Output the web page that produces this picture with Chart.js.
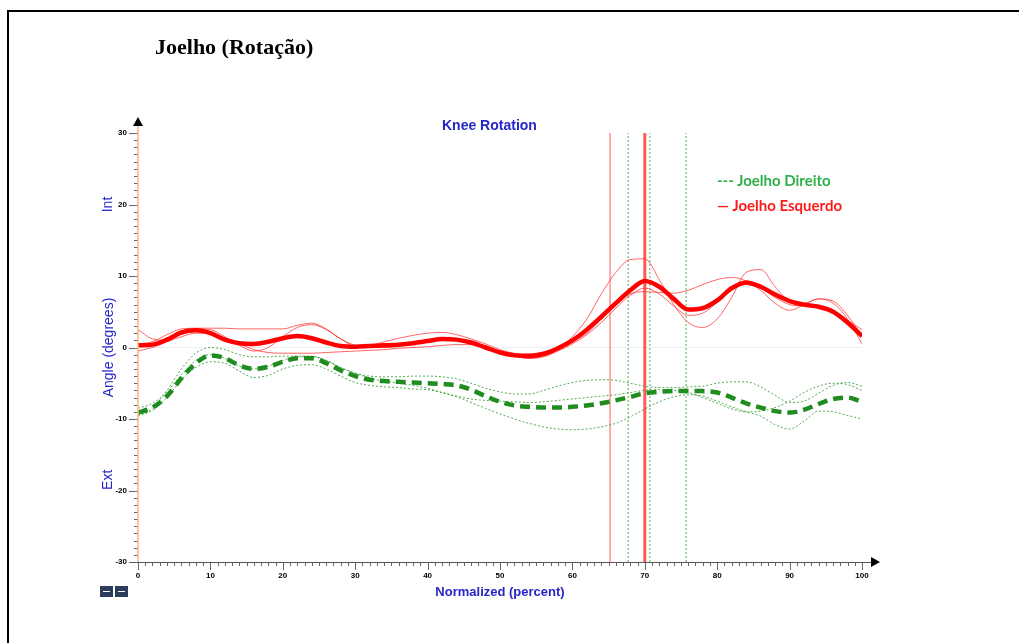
<!DOCTYPE html>
<html>
<head>
<meta charset="utf-8">
<script src="https://cdn.jsdelivr.net/npm/chart.js@4.4.1/dist/chart.umd.min.js"></script>
<style>
  body { margin: 0; background: #fff; }
  #wrap { position: relative; width: 1019px; height: 643px; overflow: hidden; }
  #title { position: absolute; left: 155px; top: 36px; font: bold 22px "Liberation Serif", serif; line-height: 22px; color: #000; }
  #sub { position: absolute; left: 442px; top: 118px; font: bold 14px "Liberation Sans", Arial, sans-serif; line-height: 14px; color: #2626c8; }
  .leg { position: absolute; left: 717px; font: bold 15px Lato, sans-serif; line-height: 15px; }
</style>
</head>
<body>
<div id="wrap">
  <canvas id="myChart"></canvas>
  <div id="title">Joelho (Rotação)</div>
  <div id="sub">Knee Rotation</div>
  <div class="leg" style="top:173px;color:#2fb04a">--- Joelho Direito</div>
  <div class="leg" style="top:198px;color:#ff1a1a">— Joelho Esquerdo</div>
</div>
<script>
var pct = [0, 2, 4, 6, 8, 10, 12, 14, 16, 18, 20, 22, 24, 26, 28, 30, 32, 34, 36, 38, 40, 42, 44, 46, 48, 50,
    52, 54, 56, 58, 60, 62, 64, 66, 68, 70, 72, 74, 76, 78, 80, 82, 84, 86, 88, 90, 92, 94, 96, 98, 100];

var redMean = [0.3, 0.4, 1.1, 2.1, 2.4, 2.0, 1.1, 0.6, 0.5, 0.8, 1.3, 1.6, 1.3, 0.7, 0.2, 0.1, 0.2, 0.3, 0.4, 0.6, 0.9, 1.2, 1.1, 0.7, 0.0, -0.7,
    -1.1, -1.2, -0.9, -0.1, 1.0, 2.5, 4.3, 6.2, 8.0, 9.3, 8.5, 6.8, 5.3, 5.5, 6.6, 8.3, 9.1, 8.5, 7.4, 6.5, 6.0, 5.7, 5.0, 3.5, 1.6];
var redTrial1 = [2.5, 1.2, 1.0, 2.0, 2.6, 2.5, 1.5, 0.3, -0.5, 0.0, 1.5, 2.8, 3.2, 2.5, 1.2, 0.3, 0.0, 0.0, 0.2, 0.6, 1.0, 1.2, 1.1, 0.8, 0.2, -0.5,
    -1.2, -1.5, -1.2, -0.2, 1.5, 4.0, 7.5, 10.5, 12.3, 12.4, 9.5, 6.0, 3.5, 2.8, 4.0, 7.0, 10.5, 10.9, 8.5, 6.5, 6.2, 6.8, 6.5, 4.5, 1.5];
var redTrial2 = [0.5, 0.8, 1.8, 2.6, 2.7, 2.7, 2.7, 2.6, 2.6, 2.6, 2.6, 3.1, 3.4, 2.6, 1.2, 0.2, 0.3, 0.8, 1.3, 1.7, 2.0, 2.1, 1.8, 1.2, 0.5, -0.3,
    -0.8, -0.9, -0.6, 0.0, 0.8, 2.0, 4.0, 6.0, 7.5, 7.8, 7.7, 7.6, 8.0, 8.8, 9.5, 9.8, 9.3, 8.0, 6.2, 5.2, 6.0, 6.8, 6.2, 4.0, 0.5];
var redTrial3 = [-0.5, 0.0, 0.8, 1.5, 2.0, 2.0, 1.3, 0.5, -0.3, -0.7, -0.8, -0.8, -0.8, -0.7, -0.6, -0.5, -0.4, -0.3, -0.1, 0.0, 0.1, 0.3, 0.4, 0.4, 0.0, -0.6,
    -1.2, -1.5, -1.3, -0.5, 0.5, 1.8, 3.5, 5.5, 7.3, 8.3, 7.5, 5.8, 4.5, 4.8, 6.3, 8.0, 8.8, 8.3, 7.0, 6.0, 5.8, 5.6, 5.0, 3.8, 2.5];

var greenMean = [-9.1, -8.4, -6.8, -4.3, -2.2, -1.1, -1.5, -2.5, -3.0, -2.7, -2.0, -1.5, -1.5, -2.2, -3.2, -4.0, -4.5, -4.7, -4.8, -4.9, -5.0, -5.1, -5.3, -5.9, -6.8, -7.6,
    -8.1, -8.3, -8.4, -8.4, -8.3, -8.1, -7.8, -7.4, -6.9, -6.4, -6.2, -6.1, -6.1, -6.1, -6.3, -7.0, -7.8, -8.4, -8.9, -9.1, -8.7, -7.9, -7.2, -7.0, -7.6];
var greenTrial1 = [-9.5, -8.5, -6.0, -3.0, -0.8, 0.0, -0.3, -1.0, -1.3, -1.3, -1.2, -1.2, -1.2, -1.8, -2.8, -3.6, -4.0, -4.1, -4.1, -4.0, -4.0, -4.1, -4.4, -5.0, -5.7, -6.2,
    -6.5, -6.5, -6.0, -5.4, -4.9, -4.6, -4.5, -4.6, -5.0, -5.4, -5.6, -5.6, -5.5, -5.4, -5.0, -4.8, -4.8, -5.5, -6.7, -7.7, -7.5, -6.4, -5.3, -4.9, -5.4];
var greenTrial2 = [-9.6, -8.8, -7.0, -4.5, -2.8, -2.0, -2.2, -3.3, -4.2, -3.9, -3.0, -2.5, -2.4, -3.0, -4.0, -4.9, -5.3, -5.5, -5.6, -5.8, -5.9, -6.3, -6.9, -7.7, -8.5, -9.3,
    -10.0, -10.6, -11.1, -11.4, -11.5, -11.4, -11.1, -10.6, -9.7, -8.6, -7.6, -6.9, -6.6, -6.8, -7.5, -8.3, -9.0, -9.6, -10.8, -11.4, -10.3, -8.9, -9.0, -9.5, -10.0];
var greenTrial3 = [-8.5, -7.8, -6.2, -3.8, -1.8, -1.0, -1.5, -2.6, -3.0, -2.6, -1.8, -1.3, -1.3, -1.8, -2.8, -3.6, -4.3, -4.7, -5.0, -5.3, -5.7, -6.3, -6.8, -7.2, -7.4, -7.5,
    -7.6, -7.7, -7.6, -7.4, -7.2, -7.0, -6.8, -6.6, -6.3, -6.0, -5.9, -6.0, -6.3, -7.0, -7.8, -8.6, -9.0, -8.9, -8.4, -7.5, -6.3, -5.4, -5.0, -5.2, -6.0];

// event markers (percent of cycle)
var redEvents = [65.2, 70.0];
var greenEvents = [67.7, 70.7, 75.7];

var xTicks = [0, 10, 20, 30, 40, 50, 60, 70, 80, 90, 100];
var yTicks = [-30, -20, -10, 0, 10, 20, 30];

var blue = '#2626c8';

function pts(arr) {
    return pct.map((x, i) => ({ x: x, y: arr[i] }));
}

function vline(x) {
    return [{ x: x, y: -30 }, { x: x, y: 30 }];
}

var datasets = [
    { data: pts(redMean), borderColor: '#ff0000', borderWidth: 4.5 },
    { data: pts(greenMean), borderColor: '#1e8c1e', borderWidth: 4.5, borderDash: [10, 6] },
    { data: pts(redTrial1), borderColor: 'rgba(255,50,50,0.75)', borderWidth: 1 },
    { data: pts(redTrial2), borderColor: 'rgba(255,50,50,0.75)', borderWidth: 1 },
    { data: pts(redTrial3), borderColor: 'rgba(255,50,50,0.75)', borderWidth: 1 },
    { data: pts(greenTrial1), borderColor: 'rgba(40,150,40,0.8)', borderWidth: 1, borderDash: [2, 2] },
    { data: pts(greenTrial2), borderColor: 'rgba(40,150,40,0.8)', borderWidth: 1, borderDash: [2, 2] },
    { data: pts(greenTrial3), borderColor: 'rgba(40,150,40,0.8)', borderWidth: 1, borderDash: [2, 2] },
];

redEvents.forEach((x, i) => {
    datasets.push({ data: vline(x), borderColor: 'rgba(255,60,60,0.85)', borderWidth: i == 0 ? 1 : 3, tension: 0, cubicInterpolationMode: 'default' });
});
greenEvents.forEach(x => {
    datasets.push({ data: vline(x), borderColor: 'rgba(40,150,40,0.8)', borderWidth: 1, borderDash: [2, 2], tension: 0, cubicInterpolationMode: 'default' });
});

var axesPlugin = {
    id: 'axes',
    beforeDatasetsDraw(chart) {
        let c = chart.ctx, xs = chart.scales.x, ys = chart.scales.y;
        let y0 = ys.getPixelForValue(0);
        c.save();
        c.strokeStyle = '#eeeeee';
        c.lineWidth = 1;
        c.beginPath();
        c.moveTo(xs.left, y0);
        c.lineTo(xs.right, y0);
        c.stroke();
        c.restore();
    },
    afterDraw(chart) {
        let c = chart.ctx, xs = chart.scales.x, ys = chart.scales.y;
        let ax = xs.getPixelForValue(0), ay = ys.getPixelForValue(-30);
        c.save();

        // page frame
        c.fillStyle = '#000';
        c.fillRect(7, 10, 1012, 2);
        c.fillRect(7, 10, 2, 633);

        // ticks
        c.strokeStyle = '#666';
        c.lineWidth = 1;
        c.beginPath();
        for (let v = -30; v <= 30; v++) {
            let p = Math.round(ys.getPixelForValue(v)) + 0.5;
            let len = v % 10 == 0 ? 9 : 4;
            c.moveTo(ax - len, p);
            c.lineTo(ax, p);
        }
        for (let v = 0; v <= 100; v++) {
            let p = Math.round(xs.getPixelForValue(v)) + 0.5;
            let len = v % 10 == 0 ? 8 : 4;
            c.moveTo(p, ay);
            c.lineTo(p, ay + len);
        }
        c.stroke();

        // x axis
        c.strokeStyle = '#555';
        c.beginPath();
        c.moveTo(ax - 6, ay + 0.5);
        c.lineTo(xs.right + 12, ay + 0.5);
        c.stroke();
        c.fillStyle = '#000';
        c.beginPath();
        c.moveTo(xs.right + 18, ay);
        c.lineTo(xs.right + 9, ay - 5);
        c.lineTo(xs.right + 9, ay + 5);
        c.fill();

        // y axis
        c.strokeStyle = '#f9b98a';
        c.lineWidth = 1.5;
        c.beginPath();
        c.moveTo(ax, ay);
        c.lineTo(ax, ys.top - 10);
        c.stroke();
        c.fillStyle = '#000';
        c.beginPath();
        c.moveTo(ax, ys.top - 16);
        c.lineTo(ax - 5, ys.top - 7);
        c.lineTo(ax + 5, ys.top - 7);
        c.fill();

        // Int / Ext
        c.fillStyle = blue;
        c.font = '14px "Liberation Sans", Arial, sans-serif';
        c.textAlign = 'center';
        c.textBaseline = 'middle';
        [['Int', ys.getPixelForValue(20)], ['Ext', ys.getPixelForValue(-18.5)]].forEach(t => {
            c.save();
            c.translate(108, t[1]);
            c.rotate(-Math.PI / 2);
            c.fillText(t[0], 0, 0);
            c.restore();
        });

        // small icons bottom-left
        [100, 115].forEach(x => {
            c.fillStyle = '#2c3d5c';
            c.fillRect(x, 586, 13, 11);
            c.fillStyle = '#fff';
            c.fillRect(x + 3, 591, 7, 1);
        });
        c.restore();
    }
};

var ctx = document.getElementById('myChart').getContext('2d');

var myChart = new Chart(ctx, {
    type: 'line',
    data: { datasets: datasets },
    options: {
        responsive: true,
        maintainAspectRatio: false,
        animation: false,
        layout: { padding: { left: 98, top: 133, right: 157, bottom: 36 } },
        elements: {
            point: { radius: 0 },
            line: { cubicInterpolationMode: 'monotone', fill: false }
        },
        plugins: {
            legend: { display: false },
            tooltip: { enabled: false }
        },
        scales: {
            x: {
                type: 'linear',
                min: 0,
                max: 100,
                afterFit: s => { s.height = 45; },
                afterBuildTicks: s => { s.ticks = xTicks.map(v => ({ value: v })); },
                grid: { display: false, drawTicks: false },
                border: { display: false },
                ticks: { color: '#000', font: { size: 8, weight: 'bold', family: '"Liberation Sans", Arial' }, padding: 9, maxRotation: 0 },
                title: { display: true, text: 'Normalized (percent)', color: blue, font: { size: 13, weight: 'bold', family: '"Liberation Sans", Arial' }, padding: { top: 0, bottom: 7 } }
            },
            y: {
                type: 'linear',
                min: -30,
                max: 30,
                afterFit: s => { s.width = 40; },
                afterBuildTicks: s => { s.ticks = yTicks.map(v => ({ value: v })); },
                grid: { display: false, drawTicks: false },
                border: { display: false },
                ticks: { color: '#000', font: { size: 8, weight: 'bold', family: '"Liberation Sans", Arial' }, padding: 11 },
                title: { display: true, text: 'Angle (degrees)', color: blue, font: { size: 14, family: '"Liberation Sans", Arial' }, padding: { top: 3, bottom: 0 } }
            }
        }
    },
    plugins: [axesPlugin]
});
</script>
</body>
</html>
